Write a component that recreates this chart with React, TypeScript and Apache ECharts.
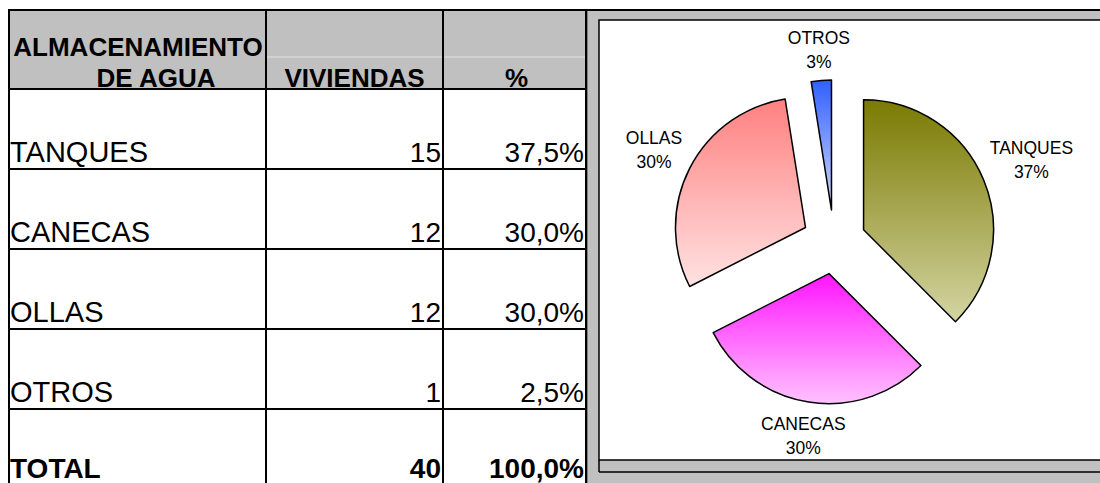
import React, { useEffect, useRef } from "react";
import * as echarts from "echarts";

// ---- Data ----
const headerCol1 = ["ALMACENAMIENTO", "DE AGUA"];
const headerCol2 = "VIVIENDAS";
const headerCol3 = "%";
const categories = ["TANQUES", "CANECAS", "OLLAS", "OTROS"];
const viviendas = [15, 12, 12, 1];
const percentages = ["37,5%", "30,0%", "30,0%", "2,5%"];
const totalLabel = "TOTAL";
const totalViviendas = 40;
const totalPercentage = "100,0%";
const pieLabels = ["37%", "30%", "30%", "3%"];

// ---- Styles ----
const FONT = 'Arial, "Liberation Sans", sans-serif';
const sliceGradients = [
  ["#7a7a02", "#d4d4a2"],
  ["#ff14ff", "#ffc2ff"],
  ["#ff8080", "#ffe2e2"],
  ["#3060ff", "#d2dbff"],
];

export default function App() {
  const ref = useRef<HTMLDivElement>(null);

  useEffect(() => {
    if (!ref.current) return;
    const chart = echarts.init(ref.current, null, { renderer: "svg" });

    const W = 1100;
    const tableLeft = 9;
    const colX = [9, 266, 443, 586];
    const headerTop = 10;
    const headerBottom = 89;
    const rowH = 80;
    const rowBottoms = [0, 1, 2, 3, 4].map((i) => headerBottom + rowH * (i + 1));

    const lineEl = (x1: number, y1: number, x2: number, y2: number, stroke = "#000", lw = 2, z = 3) => ({
      type: "line",
      z,
      silent: true,
      shape: { x1, y1, x2, y2 },
      style: { stroke, lineWidth: lw },
    });
    const textEl = (text: string, x: number, y: number, align: string, size: number, bold = false) => ({
      type: "text",
      z: 4,
      silent: true,
      x,
      y,
      style: {
        text,
        fill: "#000",
        font: `${bold ? "bold " : ""}${size}px ${FONT}`,
        textAlign: align,
        textVerticalAlign: "middle",
      },
    });

    const elements: any[] = [];
    // chart area frame
    elements.push({ type: "rect", z: 0, silent: true, shape: { x: 587, y: 10, width: W - 587, height: 483 - 10 }, style: { fill: "#c0c0c0" } });
    elements.push({ type: "rect", z: 1, silent: true, shape: { x: 599, y: 20, width: W - 599 + 2, height: 440 }, style: { fill: "#ffffff", stroke: "#000", lineWidth: 1.5 } });
    elements.push(lineEl(599, 472, W, 472, "#000", 1.5));
    elements.push(lineEl(599, 460, 599, 472, "#000", 1.5));
    elements.push(lineEl(587.5, 10, 587.5, 483, "#808080", 1));
    // table header
    elements.push({ type: "rect", z: 0, silent: true, shape: { x: tableLeft, y: headerTop, width: colX[3] - tableLeft, height: headerBottom - headerTop }, style: { fill: "#c0c0c0" } });
    elements.push(lineEl(colX[1], 57, colX[3], 57, "#e2e2e2", 1));
    // table grid
    elements.push(lineEl(8, headerTop, W, headerTop));
    elements.push(lineEl(tableLeft, headerBottom, colX[3], headerBottom));
    rowBottoms.slice(0, 4).forEach((y) => elements.push(lineEl(tableLeft, y, colX[3], y)));
    colX.forEach((x) => elements.push(lineEl(x, headerTop, x, 483)));

    elements.push(textEl(headerCol1[0], 138, 47, "center", 26, true));
    elements.push(textEl(headerCol1[1], 156, 78, "center", 26, true));
    elements.push(textEl(headerCol2, (colX[1] + colX[2]) / 2, 78, "center", 26, true));
    elements.push(textEl(headerCol3, (colX[2] + colX[3]) / 2 + 2, 78, "center", 26, true));

    categories.forEach((c, i) => {
      const y = rowBottoms[i] - 17;
      elements.push(textEl(c, 10, y, "left", 29));
      elements.push(textEl(String(viviendas[i]), colX[2] - 2, y, "right", 28));
      elements.push(textEl(percentages[i], colX[3] - 2, y, "right", 28));
    });
    const ty = 468;
    elements.push(textEl(totalLabel, 10, ty, "left", 28, true));
    elements.push(textEl(String(totalViviendas), colX[2] - 2, ty, "right", 28, true));
    elements.push(textEl(totalPercentage, colX[3] - 2, ty, "right", 28, true));

    // ---- pie geometry ----
    const cx = 834;
    const cy = 242;
    const radius = 130;
    const explode = 32;
    const gap = 4;
    const labelFontSize = 17.5;
    const labelLineH = 24;
    const total = viviendas.reduce((a, b) => a + b, 0);
    const midAngles: number[] = [];
    let acc = 0;
    viviendas.forEach((v) => {
      midAngles.push(((acc + v / 2) / total) * Math.PI * 2);
      acc += v;
    });

    // slice labels, placed just outside each exploded slice along its mid-angle
    const ctx = document.createElement("canvas").getContext("2d");
    const measure = (t: string) => {
      if (!ctx) return t.length * labelFontSize * 0.62;
      ctx.font = `${labelFontSize}px ${FONT}`;
      return ctx.measureText(t).width;
    };
    categories.forEach((name, i) => {
      const a = midAngles[i];
      const dx = Math.sin(a);
      const dy = -Math.cos(a);
      const w = Math.max(measure(name), measure(pieLabels[i]));
      const h = labelLineH * 2;
      const L = explode + radius + gap + Math.abs(dx) * (w / 2) + Math.abs(dy) * (h / 2);
      const lx = cx + dx * L;
      const ly = cy + dy * L;
      [name, pieLabels[i]].forEach((t, k) => {
        elements.push({
          type: "text",
          z: 10,
          silent: true,
          x: lx,
          y: ly + (k === 0 ? -labelLineH / 2 : labelLineH / 2),
          style: {
            text: t,
            fill: "#000",
            font: `${labelFontSize}px ${FONT}`,
            textAlign: "center",
            textVerticalAlign: "middle",
          },
        });
      });
    });

    chart.setOption({
      animation: false,
      graphic: { elements },
      series: [
        {
          type: "pie",
          z: 5,
          center: [cx, cy],
          radius,
          startAngle: 90,
          clockwise: true,
          selectedMode: "multiple",
          selectedOffset: explode,
          avoidLabelOverlap: false,
          silent: true,
          emphasis: { disabled: true },
          itemStyle: { borderColor: "#000", borderWidth: 1.5 },
          select: { itemStyle: { borderColor: "#000", borderWidth: 1.5 } },
          label: { show: false },
          labelLine: { show: false },
          data: categories.map((name, i) => ({
            name,
            value: viviendas[i],
            selected: true,
            itemStyle: {
              color: {
                type: "linear",
                x: 0,
                y: 0,
                x2: 0,
                y2: 1,
                colorStops: [
                  { offset: 0, color: sliceGradients[i][0] },
                  { offset: 1, color: sliceGradients[i][1] },
                ],
              },
            },
          })),
        },
      ],
    });

    return () => chart.dispose();
  }, []);

  return (
    <div
      ref={ref}
      style={{ position: "absolute", left: 0, top: 0, width: 1100, height: 483, background: "#fff" }}
    />
  );
}
